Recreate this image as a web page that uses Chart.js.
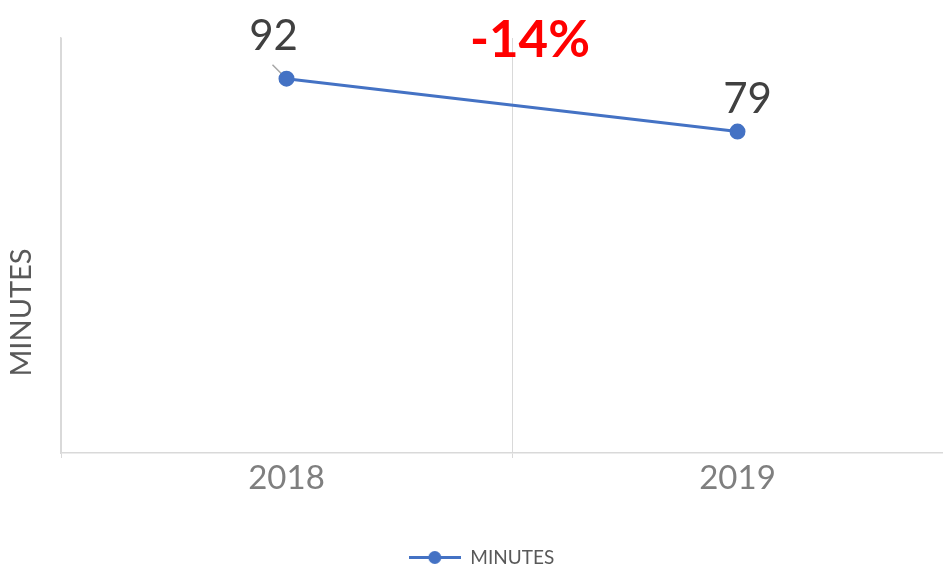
<!DOCTYPE html>
<html>
<head>
<meta charset="utf-8">
<script src="https://cdn.jsdelivr.net/npm/chart.js@4.4.0/dist/chart.umd.min.js"></script>
<style>
  html, body { margin: 0; padding: 0; background: #fff; overflow: hidden; }
  #wrap { width: 963px; height: 577px; position: relative; }
</style>
</head>
<body>
<div id="wrap"><canvas id="chart"></canvas></div>
<script>
// --- datos ---
const years = ['2018', '2019'];
const minutes = [92, 79];
const seriesName = 'MINUTES';
const axisTitle = 'MINUTES';

const FONT = 'Lato, "Open Sans", sans-serif';
const BLUE = '#4472C4';

// marca de leyenda: línea con punto
const legendMark = document.createElement('canvas');
legendMark.width = 52;
legendMark.height = 15;
(function() {
    const c = legendMark.getContext('2d');
    c.strokeStyle = BLUE;
    c.lineWidth = 3;
    c.beginPath();
    c.moveTo(0, 7.5);
    c.lineTo(52, 7.5);
    c.stroke();
    c.fillStyle = BLUE;
    c.beginPath();
    c.arc(26, 7.5, 6.5, 0, Math.PI * 2);
    c.fill();
})();

// etiquetas de datos, título del eje y cambio porcentual
const labelsPlugin = {
    id: 'labelsPlugin',
    beforeDatasetsDraw(chart) {
        const ctx = chart.ctx;
        const p0 = chart.getDatasetMeta(0).data[0];
        ctx.save();
        ctx.strokeStyle = '#a6a6a6';
        ctx.lineWidth = 1.5;
        ctx.beginPath();
        ctx.moveTo(p0.x - 14, p0.y - 14);
        ctx.lineTo(p0.x, p0.y);
        ctx.stroke();
        ctx.restore();
    },
    afterDatasetsDraw(chart) {
        const ctx = chart.ctx;
        const area = chart.chartArea;
        const pts = chart.getDatasetMeta(0).data;
        ctx.save();
        ctx.textAlign = 'center';
        ctx.textBaseline = 'alphabetic';
        ctx.fillStyle = '#404040';
        ctx.font = '42px ' + FONT;
        ctx.fillText(String(minutes[0]), pts[0].x - 13, pts[0].y - 29);
        ctx.fillText(String(minutes[1]), pts[1].x + 10, pts[1].y - 19);

        const pct = Math.round((minutes[1] - minutes[0]) / minutes[0] * 100);
        ctx.fillStyle = '#FF0000';
        ctx.font = 'bold 51px ' + FONT;
        ctx.fillText((pct > 0 ? '+' : '') + pct + '%', (pts[0].x + pts[1].x) / 2 + 18, area.top + 19);

        // título del eje vertical
        ctx.translate(area.left - 39, (area.top + area.bottom) / 2 + 67);
        ctx.rotate(-Math.PI / 2);
        ctx.textBaseline = 'middle';
        ctx.fillStyle = '#595959';
        ctx.font = '29px ' + FONT;
        ctx.fillText(axisTitle, 0, 0);
        ctx.restore();
    }
};

new Chart(document.getElementById('chart'), {
    type: 'line',
    data: {
        labels: years,
        datasets: [{
            label: seriesName,
            data: minutes,
            borderColor: BLUE,
            backgroundColor: BLUE,
            borderWidth: 3,
            pointRadius: 6.5,
            pointHoverRadius: 6.5,
            pointBackgroundColor: BLUE,
            pointBorderColor: BLUE,
            tension: 0
        }]
    },
    options: {
        responsive: true,
        maintainAspectRatio: false,
        animation: false,
        layout: { autoPadding: false, padding: { top: 38, left: 0, right: 0, bottom: 0 } },
        scales: {
            x: {
                offset: true,
                grid: {
                    offset: true,
                    color: '#d9d9d9',
                    lineWidth: 1,
                    drawTicks: true,
                    tickLength: 5
                },
                border: { display: true, color: '#d9d9d9', width: 1.5 },
                ticks: {
                    color: '#7f7f7f',
                    font: { family: FONT, size: 33 },
                    padding: 1
                },
                afterFit(scale) { scale.height = 87; }
            },
            y: {
                min: 0,
                max: 102,
                grid: { display: false },
                border: { display: true, color: '#d9d9d9', width: 1.5 },
                ticks: { display: false },
                afterFit(scale) { scale.width = 61; }
            }
        },
        plugins: {
            legend: {
                position: 'bottom',
                labels: {
                    usePointStyle: true,
                    pointStyleWidth: 52,
                    boxHeight: 15,
                    color: '#595959',
                    font: { family: FONT, size: 19 },
                    padding: 8,
                    generateLabels(chart) {
                        const items = Chart.defaults.plugins.legend.labels.generateLabels(chart);
                        items.forEach(it => { it.pointStyle = legendMark; });
                        return items;
                    }
                }
            },
            tooltip: { enabled: false }
        }
    },
    plugins: [labelsPlugin]
});
</script>
</body>
</html>
